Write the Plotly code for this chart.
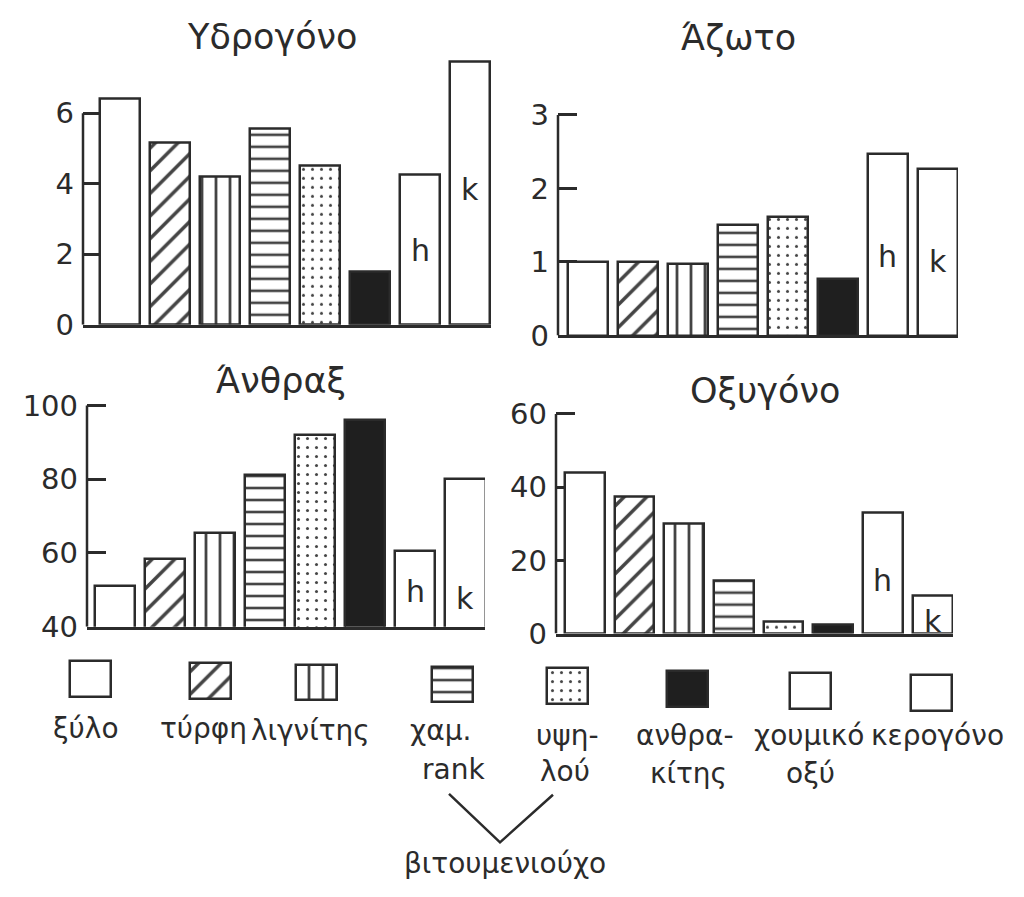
import plotly.graph_objects as go

# ---------------- data ----------------
CATEGORIES = ['ξύλο', 'τύρφη', 'λιγνίτης', 'χαμ. rank', 'υψηλού',
              'ανθρακίτης', 'χουμικό οξύ', 'κερογόνο']
HYDROGEN = [6.4, 5.15, 4.2, 5.55, 4.5, 1.5, 4.25, 7.45]   # Υδρογόνο
NITROGEN = [1.0, 1.0, 0.98, 1.5, 1.62, 0.77, 2.47, 2.27]  # Άζωτο
CARBON = [51, 58.5, 65.5, 81, 92, 96, 60.5, 80]           # Άνθραξ
OXYGEN = [44, 37.5, 30, 14.5, 3.2, 2.4, 33, 10.5]         # Οξυγόνο
PANEL_TITLES = ['Υδρογόνο', 'Άζωτο', 'Άνθραξ', 'Οξυγόνο']
BAR_LETTERS = ['h', 'k']          # labels inside the last two bars
LEGEND_LINES = [['ξύλο'], ['τύρφη'], ['λιγνίτης'], ['χαμ.', 'rank'],
                ['υψη-', 'λού'], ['ανθρα-', 'κίτης'], ['χουμικό', 'οξύ'],
                ['κερογόνο']]
GROUP_LABEL = 'βιτουμενιούχο'

# ---------------- styles ----------------
INK = '#2b2b2b'
FONT = 'DejaVu Sans'
FILLS = ['white', 'white', 'white', 'white', 'white', '#1f1f1f', 'white', 'white']
PATTERNS = ['', '/', '|', '-', '.', '', '', '']
PSIZE = [10, 16, 14, 12, 9, 10, 10, 10]
PSOLID = [0.2, 0.22, 0.2, 0.22, 0.09, 0.2, 0.2, 0.2]

W, H = 1024, 897
OFF = 8  # page body margin


def px(x):
    return (x - OFF) / W


def py(y):
    return 1 - (y - OFF) / H


# panel layout (pixel geometry, in window coordinates)
PANELS = [
    dict(values=HYDROGEN, xpx=(83, 491), xr=(-0.74, 7.42), ypx=(49, 325),
         yr=(0, 7.6), ticks=[0, 2, 4, 6], title=(272, 29), letters=(2.12, 3.83)),
    dict(values=NITROGEN, xpx=(558, 958), xr=(-0.6, 7.41), ypx=(63.5, 336),
         yr=(0, 3.6), ticks=[0, 1, 2, 3], title=(738, 30), letters=(1.07, 1.0)),
    dict(values=CARBON, xpx=(87, 485), xr=(-0.56, 7.39), ypx=(400.4, 636),
         yr=(40, 102), ticks=[40, 60, 80, 100], title=(281, 383), letters=(49.5, 47.6)),
    dict(values=OXYGEN, xpx=(556, 953), xr=(-0.58, 7.41), ypx=(409.3, 643),
         yr=(0, 62), ticks=[0, 20, 40, 60], title=(765, 393), letters=(14.6, 3.4)),
]

fig = go.Figure()
layout = dict(width=W, height=H, margin=dict(l=0, r=0, t=0, b=0),
              paper_bgcolor='white', plot_bgcolor='rgba(0,0,0,0)',
              showlegend=False, bargap=0)
shapes = []
annotations = []

for i, p in enumerate(PANELS, start=1):
    xa = 'x' if i == 1 else f'x{i}'
    ya = 'y' if i == 1 else f'y{i}'
    xkey = 'xaxis' if i == 1 else f'xaxis{i}'
    ykey = 'yaxis' if i == 1 else f'yaxis{i}'
    fig.add_trace(go.Bar(
        x=CATEGORIES, y=p['values'], xaxis=xa, yaxis=ya, width=0.8,
        marker=dict(color=FILLS, line=dict(color=INK, width=2.5),
                    pattern=dict(shape=PATTERNS, size=PSIZE, solidity=PSOLID,
                                 fgcolor=INK, fgopacity=1)),
        hoverinfo='skip'))
    layout[xkey] = dict(domain=[px(p['xpx'][0]), px(p['xpx'][1])], range=list(p['xr']),
                        type='category', anchor=ya, showline=True, linewidth=2.5,
                        linecolor=INK, showticklabels=False, ticks='',
                        showgrid=False, zeroline=False, fixedrange=True)
    layout[ykey] = dict(domain=[py(p['ypx'][1]), py(p['ypx'][0])], range=list(p['yr']),
                        anchor=xa, tickvals=p['ticks'], ticks='inside', ticklen=19,
                        tickwidth=2.5, tickcolor=INK, showline=False, showgrid=False,
                        zeroline=False, ticklabelstandoff=8, layer='below traces',
                        tickfont=dict(family=FONT, size=29, color=INK), fixedrange=True)
    # vertical axis line, from the baseline up to the top tick
    shapes.append(dict(type='line', xref=f'{xa} domain', yref=ya, x0=0, x1=0,
                       y0=p['yr'][0], y1=p['ticks'][-1],
                       line=dict(color=INK, width=2.5)))
    # panel title
    annotations.append(dict(text=PANEL_TITLES[i - 1], xref='paper', yref='paper',
                            x=px(p['title'][0]), y=py(p['title'][1]),
                            xanchor='center', yanchor='middle', showarrow=False,
                            font=dict(family=FONT, size=35, color=INK)))
    # h / k letters inside the last two bars
    for j, letter in enumerate(BAR_LETTERS):
        annotations.append(dict(text=letter, xref=xa, yref=ya, x=6 + j,
                                y=p['letters'][j], xanchor='center', yanchor='middle',
                                showarrow=False,
                                font=dict(family=FONT, size=30, color=INK)))

# ---------------- legend (swatches drawn as bars on a pixel-scaled axis) ----------------
LEGEND_X = [90, 210, 316, 452, 567, 687, 810, 931]
LEGEND_TOP = [671, 673, 675, 677, 679, 682, 684, 686]
LEGEND_H = [37] * 8
fig.add_trace(go.Bar(
    x=LEGEND_X, y=LEGEND_H, base=LEGEND_TOP, xaxis='x5', yaxis='y5', width=41,
    marker=dict(color=FILLS, line=dict(color=INK, width=2.5),
                pattern=dict(shape=PATTERNS, size=PSIZE, solidity=PSOLID,
                             fgcolor=INK, fgopacity=1)),
    hoverinfo='skip'))
layout['xaxis5'] = dict(domain=[px(OFF), px(OFF + W)], range=[OFF, OFF + W], anchor='y5',
                        visible=False, fixedrange=True)
layout['yaxis5'] = dict(domain=[py(730), py(660)], range=[730, 660], anchor='x5',
                        visible=False, fixedrange=True)

LEGEND_TEXT_X = [[86], [203], [310], [440, 453], [567, 565], [685, 688], [809, 810], [937]]
LEGEND_TEXT_Y = [[750], [750], [752], [752, 792], [757, 795], [757, 797], [757, 797], [757]]
for lines, xs, ys in zip(LEGEND_LINES, LEGEND_TEXT_X, LEGEND_TEXT_Y):
    for t, x, y in zip(lines, xs, ys):
        annotations.append(dict(text=t, xref='paper', yref='paper', x=px(x),
                                y=py(y - 9.5), xanchor='center', yanchor='middle',
                                showarrow=False,
                                font=dict(family=FONT, size=28, color=INK)))
annotations.append(dict(text=GROUP_LABEL, xref='paper', yref='paper', x=px(505),
                        y=py(889 - 9.5), xanchor='center', yanchor='middle',
                        showarrow=False, font=dict(family=FONT, size=28, color=INK)))
# V bracket joining the two bituminous classes
shapes.append(dict(type='path', xref='paper', yref='paper',
                   path=f'M {px(449)},{py(808)} L {px(500)},{py(858)} L {px(553)},{py(809)}',
                   line=dict(color=INK, width=2.5)))

layout['shapes'] = shapes
layout['annotations'] = annotations
fig.update_layout(**layout)
fig.write_html('out.html')
